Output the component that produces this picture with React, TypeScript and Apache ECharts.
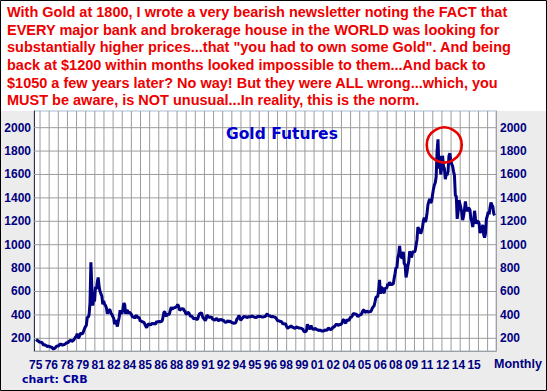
import React, { useEffect, useRef } from 'react';
import * as echarts from 'echarts';

const headerLines = [
  'With Gold at 1800, I wrote a very bearish newsletter noting the FACT that',
  'EVERY major bank and brokerage house in the WORLD was looking for',
  'substantially higher prices...that "you had to own some Gold". And being',
  'back at $1200 within months looked impossible to them...And back to',
  '$1050 a few years later? No way! But they were ALL wrong...which, you',
  'MUST be aware, is NOT unusual...In reality, this is the norm.',
];

const chartTitle = 'Gold Futures';
const firstYear = 1975;

// Monthly gold futures (Jan..Dec)
const prices1975to1984 = [
  190, 183, 180, 172, 168, 165, 167, 158, 142, 146, 141, 138,
  130, 132, 133, 128, 126, 123, 117, 106, 114, 118, 130, 135,
  133, 137, 149, 150, 146, 141, 145, 146, 152, 160, 163, 162,
  175, 180, 186, 172, 177, 184, 195, 210, 215, 240, 200, 210,
  228, 248, 240, 238, 262, 282, 300, 310, 380, 380, 400, 500,
  850, 640, 480, 530, 515, 640, 620, 680, 720, 640, 600, 580,
  560, 490, 520, 490, 480, 460, 410, 430, 445, 440, 410, 405,
  385, 370, 320, 355, 330, 300, 345, 380, 440, 420, 410, 450,
  500, 490, 410, 435, 440, 410, 425, 415, 410, 390, 380, 385,
  370, 390, 395, 380, 378, 375, 345, 350, 340, 338, 340, 320,
];
const prices1985to1994 = [
  305, 290, 310, 325, 318, 316, 318, 332, 322, 326, 325, 322,
  345, 338, 346, 340, 342, 344, 350, 380, 425, 425, 395, 390,
  410, 400, 410, 440, 465, 450, 455, 462, 460, 470, 468, 490,
  475, 440, 445, 452, 450, 455, 438, 430, 410, 405, 420, 418,
  405, 388, 390, 385, 370, 367, 375, 365, 360, 367, 395, 410,
  415, 418, 393, 372, 368, 352, 362, 398, 390, 380, 382, 378,
  384, 365, 362, 358, 356, 367, 368, 356, 349, 358, 360, 360,
  354, 354, 345, 338, 337, 341, 353, 340, 345, 344, 335, 334,
  329, 329, 330, 342, 367, 372, 395, 379, 355, 364, 373, 383,
  387, 382, 384, 378, 381, 385, 385, 380, 391, 389, 384, 379,
];
const prices1995to2004 = [
  379, 377, 382, 391, 385, 387, 386, 383, 383, 383, 386, 387,
  400, 410, 396, 393, 392, 385, 383, 387, 383, 381, 378, 369,
  355, 347, 352, 344, 344, 341, 324, 324, 323, 325, 306, 289,
  289, 297, 296, 308, 299, 293, 293, 284, 289, 296, 294, 291,
  287, 287, 286, 282, 277, 262, 256, 257, 265, 320, 293, 283,
  284, 310, 286, 280, 275, 285, 282, 275, 273, 270, 266, 272,
  266, 262, 263, 261, 272, 270, 268, 273, 290, 283, 276, 276,
  282, 296, 294, 303, 314, 321, 314, 310, 319, 317, 319, 333,
  357, 359, 340, 328, 355, 356, 351, 360, 379, 379, 389, 407,
  414, 405, 406, 404, 384, 392, 398, 400, 405, 420, 439, 442,
];
const prices2005to2016 = [
  424, 423, 434, 429, 422, 430, 424, 437, 456, 470, 476, 510,
  549, 555, 557, 610, 700, 580, 633, 632, 598, 585, 627, 629,
  631, 665, 654, 679, 667, 655, 665, 665, 712, 754, 806, 803,
  889, 922, 990, 909, 888, 889, 939, 839, 829, 720, 760, 816,
  858, 943, 924, 890, 928, 946, 934, 949, 996, 1043, 1150, 1134,
  1118, 1095, 1113, 1148, 1205, 1232, 1193, 1215, 1271, 1342, 1370, 1391,
  1356, 1372, 1424, 1473, 1510, 1529, 1580, 1800, 1900, 1650, 1760, 1600,
  1656, 1760, 1673, 1650, 1560, 1600, 1594, 1626, 1760, 1780, 1721, 1688,
  1671, 1627, 1593, 1420, 1414, 1220, 1286, 1380, 1349, 1316, 1275, 1210,
  1244, 1300, 1370, 1299, 1288, 1310, 1311, 1296, 1220, 1200, 1150, 1200,
  1290, 1227, 1179, 1198, 1199, 1181, 1100, 1117, 1125, 1170, 1086, 1060,
  1097, 1220, 1245, 1280, 1260, 1320, 1360, 1340, 1326, 1266, 1250,
];

const yTickValues = [200, 400, 600, 800, 1000, 1200, 1400, 1600, 1800, 2000];
const xLabelTexts = [
  '75', '76', '78', '79', '81', '82', '84', '85', '86', '88', '89', '91', '92', '94', '95',
  '96', '98', '99', '01', '02', '04', '05', '06', '08', '09', '11', '12', '14', '15',
];
const xAxisName = 'Monthly';
const sourceNote = 'chart: CRB';

const NAVY = '#000080';
const GRID = '#9c9c9c';
const PANEL = '#ececec';

export default function App() {
  const ref = useRef<HTMLDivElement>(null);

  useEffect(() => {
    if (!ref.current) return;
    const chart = echarts.init(ref.current, undefined, { renderer: 'svg' });

    const allPrices = [...prices1975to1984, ...prices1985to1994, ...prices1995to2004, ...prices2005to2016];
    const data = allPrices.map((p, i) => [firstYear + (i + 0.5) / 12, p]);

    const labelPositions = xLabelTexts.map((_, i) => firstYear + (i * 10) / 7);
    const gridPositions: number[] = [];
    for (let k = 0; k < 50; k++) gridPositions.push(1975.4 + (k * 10) / 12);

    const yMin = 91.5;
    const yMax = 2142.5;
    const xMin = 1974.85;
    const xMax = 2017.0;

    // grid lines drawn as broken line segments through the axes' scales
    const gridPath: any[] = [];
    yTickValues.forEach((v) => {
      gridPath.push([xMin, v], [xMax, v], [xMax, null]);
    });
    gridPositions.forEach((v) => {
      gridPath.push([v, yMin], [v, yMax], [v, null]);
    });

    const labelFont = { fontFamily: 'Liberation Sans, Arial', fontWeight: 'bold' as const, fontSize: 12, color: NAVY };

    chart.setOption({
      animation: false,
      backgroundColor: '#ffffff',
      grid: {
        left: 34,
        right: 51,
        top: 111,
        bottom: 40,
        show: true,
        backgroundColor: 'transparent',
        borderColor: '#a9bcd6',
        borderWidth: 1,
      },
      title: {
        text: chartTitle,
        left: 221,
        top: 121,
        textStyle: { fontFamily: 'DejaVu Sans', fontWeight: 'bold', fontSize: 15.5, color: '#0000cc' },
      },
      xAxis: {
        type: 'value',
        min: xMin,
        max: xMax,
        axisLine: { show: true, lineStyle: { color: '#a0a0a0' } },
        axisTick: { show: false },
        axisLabel: {
          customValues: labelPositions,
          formatter: (v: number) => {
            const idx = labelPositions.findIndex((p) => Math.abs(p - v) < 1e-6);
            return idx >= 0 ? xLabelTexts[idx] : '';
          },
          margin: 8,
          ...labelFont,
        },
        splitLine: { show: false },
      },
      yAxis: [
        {
          type: 'value',
          min: yMin,
          max: yMax,
          position: 'left',
          axisLine: { show: true, lineStyle: { color: '#333333' } },
          axisTick: { show: false },
          axisLabel: { customValues: yTickValues, margin: 3, formatter: (v: number) => String(v), ...labelFont },
          splitLine: { show: false },
        },
        {
          type: 'value',
          min: yMin,
          max: yMax,
          position: 'right',
          axisLine: { show: true, lineStyle: { color: '#a0a0a0' } },
          axisTick: { show: false },
          axisLabel: { customValues: yTickValues, margin: 4, formatter: (v: number) => String(v), ...labelFont },
          splitLine: { show: false },
        },
      ],
      series: [
        {
          name: 'Gold',
          type: 'line',
          data,
          showSymbol: false,
          lineStyle: { color: NAVY, width: 3 },
          z: 5,
        },
        {
          name: 'grid',
          type: 'line',
          data: gridPath,
          showSymbol: false,
          connectNulls: false,
          lineStyle: { color: GRID, width: 1 },
          z: 3,
        },
      ],
      graphic: [
        {
          id: 'leftPanel',
          type: 'rect',
          shape: { x: 0, y: 111, width: 34, height: 280 },
          style: { fill: PANEL },
          z: -10,
          silent: true,
        },
        {
          id: 'rightPanel',
          type: 'rect',
          shape: { x: 496, y: 111, width: 51, height: 280 },
          style: { fill: PANEL },
          z: -10,
          silent: true,
        },
        {
          id: 'bottomPanel',
          type: 'rect',
          shape: { x: 0, y: 351, width: 547, height: 40 },
          style: { fill: PANEL },
          z: -10,
          silent: true,
        },
        {
          id: 'header',
          type: 'text',
          left: 7,
          top: 3,
          style: {
            text: headerLines.join('\n'),
            fontFamily: 'Liberation Sans, Arial',
            fontWeight: 'bold',
            fontSize: 14.5,
            lineHeight: 17.7,
            fill: '#ee0000',
          },
          z: 10,
        },
        {
          id: 'monthly',
          type: 'text',
          left: 494,
          top: 357,
          style: { text: xAxisName, fontFamily: 'Liberation Sans, Arial', fontWeight: 'bold', fontSize: 12.5, fill: NAVY },
        },
        {
          id: 'source',
          type: 'text',
          left: 22,
          top: 374,
          style: { text: sourceNote, fontFamily: 'DejaVu Sans', fontWeight: 'bold', fontSize: 11, fill: '#000099' },
        },
        {
          id: 'frame',
          type: 'rect',
          shape: { x: 0.5, y: 0.5, width: 546, height: 390 },
          style: { fill: 'none', stroke: '#000000', lineWidth: 1 },
          z: 100,
          silent: true,
        },
      ],
    });

    const c = chart.convertToPixel({ xAxisIndex: 0, yAxisIndex: 0 }, [2012.28, 1852]) as number[];
    chart.setOption({
      graphic: [
        {
          id: 'ring',
          type: 'circle',
          shape: { cx: c[0], cy: c[1], r: 17.5 },
          style: { fill: 'none', stroke: '#e60000', lineWidth: 2.6 },
          z: 50,
        },
      ],
    });

    return () => chart.dispose();
  }, []);

  return (
    <div
      ref={ref}
      style={{ position: 'fixed', left: 0, top: 0, width: 547, height: 391 }}
    />
  );
}
